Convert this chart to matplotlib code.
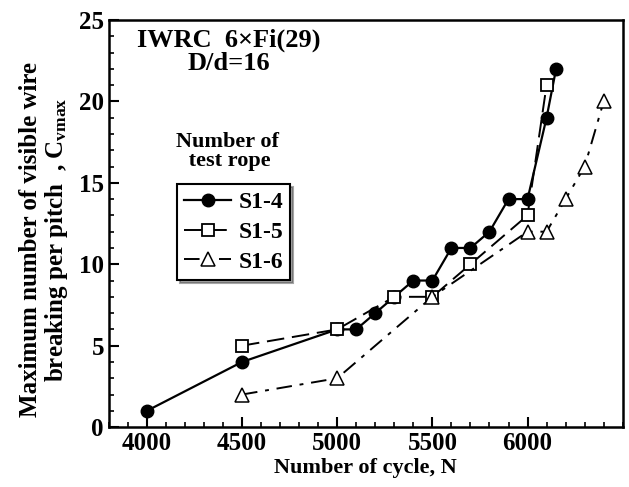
import matplotlib.pyplot as plt
from matplotlib.ticker import MultipleLocator

plt.rcParams['font.family'] = ['Liberation Serif', 'DejaVu Serif']
plt.rcParams['font.weight'] = 'bold'
plt.rcParams['mathtext.fontset'] = 'custom'
plt.rcParams['mathtext.rm'] = 'Liberation Serif:bold'
plt.rcParams['mathtext.it'] = 'Liberation Serif:bold'

# data
s14_n = [4000, 4500, 5000, 5100, 5200, 5300, 5400, 5500, 5600, 5700, 5800, 5900, 6000, 6100, 6150]
s14_c = [1, 4, 6, 6, 7, 8, 9, 9, 11, 11, 12, 14, 14, 19, 22]
s15_n = [4500, 5000, 5300, 5500, 5700, 6000, 6100]
s15_c = [5, 6, 8, 8, 10, 13, 21]
s16_n = [4500, 5000, 5500, 6000, 6100, 6200, 6300, 6400]
s16_c = [2, 3, 8, 12, 12, 14, 16, 20]

fig = plt.figure(figsize=(6.29, 4.87), dpi=100)
ax = fig.add_axes([0.173, 0.123, 0.817, 0.836])

ax.plot(s14_n, s14_c, color='black', lw=1.6, marker='o', ms=9, label='S1-4')
ax.plot(s15_n, s15_c, color='black', lw=1.4, dashes=(9, 4), marker='s', ms=8,
        mfc='white', mew=1.3, label='S1-5')
ax.plot(s16_n, s16_c, color='black', lw=1.4, dashes=(8, 4, 2, 4), marker='^', ms=10,
        mfc='white', mew=1.1, label='S1-6')

ax.set_xlim(3800, 6500)
ax.set_ylim(0, 25)
ax.set_xticks([4000, 4500, 5000, 5500, 6000])
ax.set_yticks([0, 5, 10, 15, 20, 25])
ax.xaxis.set_minor_locator(MultipleLocator(100))
ax.yaxis.set_minor_locator(MultipleLocator(1))
ax.tick_params(which='both', direction='in', labelsize=18)
ax.tick_params(which='major', length=7, width=1.5)
ax.tick_params(which='minor', length=3.5, width=1.2)
for s in ax.spines.values():
    s.set_linewidth(1.8)

ax.set_xlabel('Number of cycle, N', fontsize=16, fontweight='bold', labelpad=2)
ax.set_ylabel('Maximum number of visible wire\nbreaking per pitch  , C$_{\\mathrm{vmax}}$',
              fontsize=18, fontweight='bold', linespacing=1.05)
ax.yaxis.set_label_coords(-0.075, 0.46)

ax.text(0.055, 0.865, 'IWRC  6\u00d7Fi(29)\nD/d=16', transform=ax.transAxes,
        fontsize=19, fontweight='bold', ha='left', va='bottom', ma='center',
        linespacing=1.0)
ax.text(0.23, 0.63, 'Number of\n test rope', transform=ax.transAxes,
        fontsize=16, fontweight='bold', ha='center', va='bottom', linespacing=0.9)

leg = ax.legend(loc='upper left', bbox_to_anchor=(0.11, 0.625), fontsize=17,
                frameon=True, fancybox=False, shadow=True, handlelength=2.0,
                handletextpad=0.3, borderpad=0.3, labelspacing=0.35)
leg.get_frame().set_edgecolor('black')
leg.get_frame().set_linewidth(1.5)

fig.savefig('out.png', dpi=100)
